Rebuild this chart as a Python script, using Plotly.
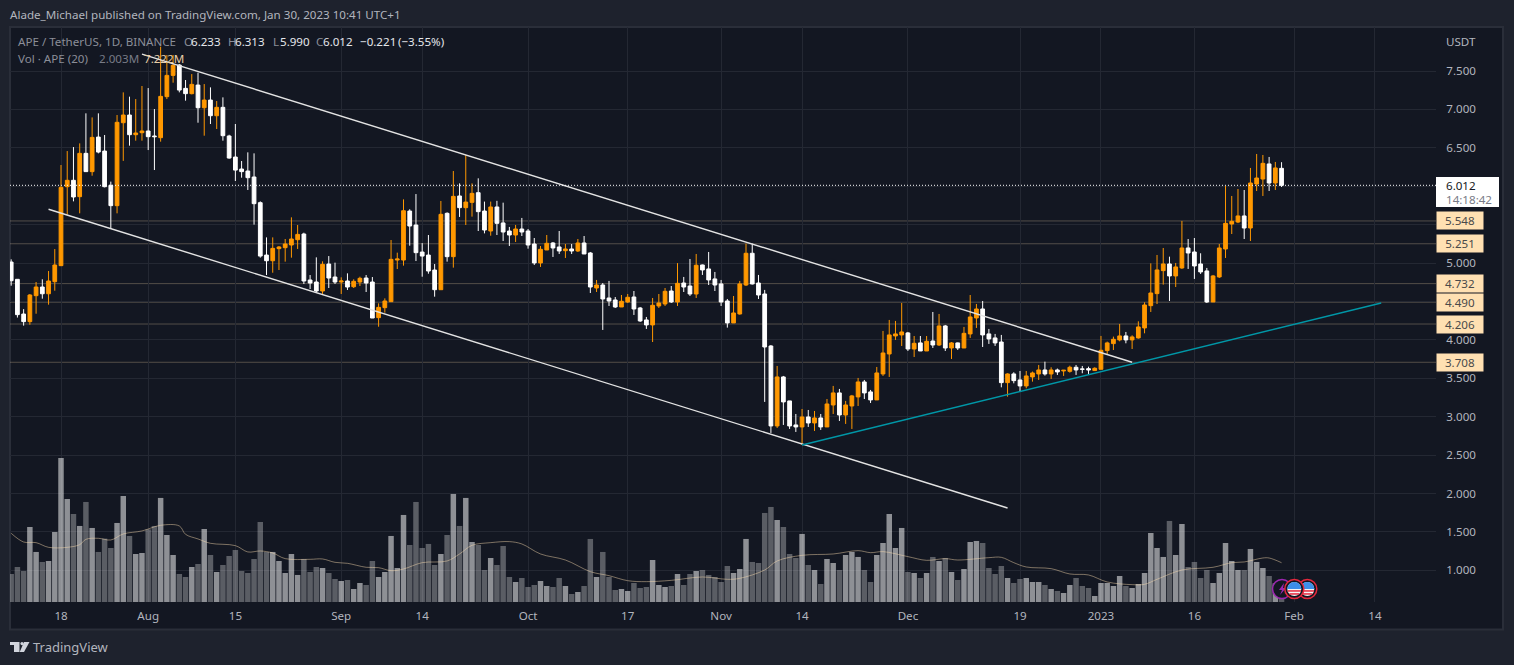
import math
import pandas as pd
import plotly.graph_objects as go

# ohlc per day, 10 Jul 2022 -> 30 Jan 2023, one line per month
opens = [5.013,4.788,4.336,4.237,4.575,4.688,4.60,4.757,4.966,5.994,6.077,5.864,6.428,6.19,6.64,6.458,6.012,5.747,6.827,6.927,6.671,6.697,
    6.719,6.654,6.632,7.166,7.443,7.578,7.274,7.205,7.317,7.022,7.122,6.918,7.027,6.654,6.38,6.224,6.198,6.12,5.786,5.104,5.03,5.187,5.2,5.235,5.304,5.378,4.779,4.753,4.636,4.987,4.818,
    4.753,4.766,4.692,4.753,4.805,4.753,4.289,4.419,4.497,5.039,5.039,5.677,5.495,5.143,5.104,4.909,4.653,5.647,5.083,5.873,5.721,5.79,5.916,5.677,5.417,5.73,5.522,5.417,5.365,5.443,
    5.417,5.248,5.001,5.17,5.261,5.209,5.161,5.183,5.157,5.261,5.131,4.675,4.714,4.545,4.519,4.428,4.493,4.558,4.415,4.259,4.194,4.441,4.467,4.636,4.493,4.74,4.701,4.597,4.975,4.923,4.793,
    4.728,4.506,4.22,4.337,4.714,5.127,4.74,4.597,3.92,2.879,3.517,3.205,2.892,2.866,2.996,2.918,2.983,2.866,3.152,3.309,3.022,3.139,3.257,3.452,3.322,3.218,3.556,3.816,4.051,4.064,
    4.09,3.881,3.96,3.855,3.985,3.933,4.181,3.894,3.96,3.894,4.077,4.285,4.402,4.077,4.025,3.972,3.443,3.556,3.478,3.4,3.517,3.556,3.608,3.556,3.608,3.595,3.59,3.643,3.621,3.625,3.6,
    3.617,3.86,3.951,3.999,4.051,3.999,4.025,4.155,4.445,4.602,4.901,4.988,4.832,4.936,5.196,5.144,4.988,4.897,4.493,4.819,5.183,5.508,5.534,5.613,5.456,6.029,6.094,6.29,6.042,6.233]
highs = [5.048,4.79,4.40,4.597,4.753,4.788,4.896,5.182,6.276,6.458,6.51,6.558,6.949,6.896,6.949,6.667,6.06,6.927,7.222,7.166,7.135,7.305,
    7.278,7.005,7.817,7.708,7.708,7.59,7.383,7.46,7.478,7.33,7.287,7.109,7.157,6.67,6.81,6.328,6.441,6.428,5.803,5.334,5.334,5.222,5.313,5.595,5.495,5.395,4.844,5.074,5.022,5.091,5.005,
    4.814,4.866,4.788,4.822,4.844,4.818,4.475,4.54,5.3,5.135,5.829,5.70,5.898,5.26,5.365,4.987,5.808,5.66,6.198,6.037,6.406,6.037,6.103,5.8,5.8,5.81,5.786,5.47,5.496,5.587,
    5.443,5.326,5.222,5.365,5.274,5.417,5.248,5.248,5.313,5.352,5.144,4.78,4.74,4.767,4.558,4.584,4.597,4.636,4.428,4.298,4.545,4.597,4.675,4.701,4.999,4.819,5.053,5.118,4.98,5.144,4.884,
    4.78,4.532,4.571,4.767,5.253,5.253,4.845,4.65,3.933,3.66,3.53,3.205,3.035,3.1,3.087,3.074,3.035,3.23,3.4,3.361,3.205,3.283,3.504,3.478,3.348,3.647,4.116,4.259,4.246,4.48,
    4.103,4.05,4.05,4.05,4.363,4.337,4.194,3.972,3.965,4.168,4.584,4.467,4.506,4.142,4.077,4.064,3.565,3.578,3.595,3.595,3.587,3.673,3.716,3.643,3.626,3.608,3.664,3.673,3.66,3.651,3.643,
    4.051,3.977,4.042,4.207,4.103,4.059,4.241,4.489,4.996,5.105,5.196,5.083,5.001,5.548,5.313,5.326,5.127,4.936,4.845,5.248,6.003,5.873,5.964,5.951,6.238,6.42,6.407,6.381,6.316,6.313]
lows = [4.705,4.29,4.185,4.197,4.34,4.536,4.458,4.64,4.96,5.63,5.803,5.647,6.19,6.137,6.428,5.985,5.443,5.647,6.33,6.528,6.593,6.593,
    6.471,6.211,6.58,7.135,7.348,7.222,7.114,7.196,6.827,6.658,6.81,6.745,6.593,6.358,6.068,6.111,5.951,5.5,5.07,4.844,4.874,4.909,5.018,5.07,5.183,4.727,4.662,4.614,4.597,4.675,4.727,
    4.597,4.649,4.675,4.701,4.623,4.284,4.171,4.354,4.497,4.922,4.966,5.226,5.026,4.822,4.861,4.562,4.65,5.018,4.94,5.6,5.495,5.604,5.417,5.386,5.356,5.365,5.287,5.222,5.274,5.352,
    5.187,4.975,4.949,5.17,5.079,5.118,5.066,5.118,5.144,5.118,4.61,4.623,4.129,4.441,4.415,4.428,4.48,4.324,4.233,4.142,3.972,4.415,4.441,4.48,4.441,4.623,4.571,4.545,4.845,4.714,4.636,
    4.441,4.159,4.22,4.328,4.701,4.72,4.532,3.192,2.788,2.853,2.892,2.84,2.801,2.632,2.866,2.814,2.827,2.866,3.035,2.944,2.905,2.84,3.139,3.23,3.178,3.218,3.53,3.517,3.999,3.92,
    3.855,3.777,3.855,3.855,3.894,3.92,3.855,3.751,3.868,3.894,4.025,4.155,3.907,3.947,3.921,3.382,3.261,3.434,3.326,3.369,3.456,3.478,3.534,3.491,3.543,3.53,3.573,3.543,3.565,3.556,3.595,
    3.617,3.816,3.868,3.981,3.955,3.881,4.016,4.085,4.363,4.467,4.719,4.506,4.688,4.923,4.923,4.793,4.858,4.48,4.493,4.806,5.066,5.378,5.52,5.313,5.287,5.938,5.873,5.938,5.951,5.99]
closes = [4.77,4.328,4.237,4.584,4.688,4.60,4.766,4.974,5.985,6.077,5.86,6.428,6.19,6.636,6.445,5.994,5.747,6.832,6.927,6.671,6.693,6.719,
    6.645,6.645,7.17,7.443,7.574,7.252,7.205,7.326,7.022,7.122,6.918,7.027,6.658,6.367,6.21,6.19,6.111,5.773,5.091,5.03,5.191,5.209,5.248,5.313,5.373,4.766,4.74,4.636,4.983,4.805,4.753,
    4.766,4.688,4.762,4.801,4.74,4.284,4.423,4.506,5.048,5.052,5.681,5.482,5.135,5.091,4.896,4.653,5.634,5.083,5.868,5.721,5.794,5.907,5.669,5.43,5.73,5.517,5.404,5.365,5.443,5.404,
    5.235,5.001,5.179,5.257,5.196,5.157,5.183,5.157,5.261,5.118,4.688,4.714,4.532,4.506,4.428,4.502,4.554,4.402,4.246,4.194,4.45,4.48,4.632,4.493,4.736,4.688,4.597,4.971,4.91,4.78,4.714,
    4.493,4.22,4.35,4.728,5.127,4.728,4.584,3.907,2.879,3.517,3.192,2.879,2.866,2.996,2.918,2.983,2.866,3.165,3.309,3.022,3.152,3.27,3.452,3.309,3.218,3.569,3.829,4.064,4.077,4.103,
    3.881,3.955,3.855,3.981,3.933,4.181,3.894,3.96,3.894,4.085,4.298,4.402,4.064,4.012,3.96,3.443,3.556,3.469,3.4,3.53,3.569,3.608,3.556,3.608,3.582,3.604,3.643,3.608,3.617,3.608,3.63,
    3.864,3.96,4.007,4.051,3.999,4.038,4.168,4.454,4.61,4.91,4.988,4.832,4.949,5.196,5.131,4.962,4.884,4.493,4.832,5.196,5.517,5.543,5.613,5.456,6.042,6.107,6.298,6.042,6.238,6.012]
# volume in millions
volumes = [5.15,6.44,5.70,13.79,9.20,7.36,7.54,12.87,26.48,18.94,16.18,13.98,18.39,13.61,9.20,11.65,9.93,14.53,19.49,12.14,8.83,9.01,
    13.36,13.98,19.13,12.32,8.64,5.15,4.60,6.44,6.99,13.42,8.64,5.52,6.80,8.46,9.56,5.70,5.33,7.91,14.71,9.20,9.20,7.54,5.33,8.83,4.97,7.91,5.52,6.44,6.25,5.33,4.23,
    3.86,4.05,2.39,3.49,3.13,7.54,4.60,5.52,12.14,6.25,16.0,10.48,18.39,9.93,10.67,6.80,8.83,12.32,19.86,13.98,19.13,11.03,10.48,5.88,8.09,6.80,10.30,4.60,3.68,4.41,
    2.76,3.13,3.86,2.94,2.76,4.41,2.94,1.47,1.84,2.94,11.59,4.60,9.20,4.60,2.21,2.39,2.02,3.49,2.57,2.76,7.72,3.13,2.76,2.94,5.15,3.13,5.15,5.70,5.88,4.97,4.60,
    3.68,6.62,5.33,6.07,11.59,7.36,7.17,16.37,17.47,15.08,13.79,8.83,8.09,12.51,6.80,5.88,3.31,7.91,7.17,5.88,8.64,9.20,8.28,5.88,3.68,8.64,10.85,16.18,9.93,13.61,
    5.52,5.33,4.41,5.33,8.28,7.54,8.09,5.52,4.05,6.07,11.03,11.22,10.85,6.25,5.15,6.62,4.41,3.49,4.23,4.41,3.68,3.68,3.13,2.39,2.02,1.66,3.13,4.41,2.94,2.57,1.10,
    3.49,3.49,2.94,4.78,2.94,2.57,3.31,5.33,12.69,9.93,8.28,14.90,8.64,14.34,6.44,7.36,4.41,5.88,3.49,5.33,10.85,7.54,5.88,5.88,9.75,7.36,6.25,4.78,3.43,2.003]

ma_dates = ["2022-07-10","2022-07-12","2022-07-14","2022-07-16","2022-07-19","2022-07-21","2022-07-22","2022-07-24","2022-07-26","2022-07-28","2022-07-31",
    "2022-08-03","2022-08-06","2022-08-07","2022-08-09","2022-08-11","2022-08-15","2022-08-17","2022-08-19","2022-08-21","2022-08-23","2022-08-27","2022-08-29","2022-08-31",
    "2022-09-02","2022-09-05","2022-09-07","2022-09-09","2022-09-11","2022-09-14","2022-09-18","2022-09-20","2022-09-22","2022-09-25","2022-09-28","2022-09-30",
    "2022-10-03","2022-10-07","2022-10-11","2022-10-14","2022-10-17","2022-10-20","2022-10-24","2022-10-29",
    "2022-11-02","2022-11-04","2022-11-08","2022-11-10","2022-11-14","2022-11-19","2022-11-23","2022-11-25","2022-11-27",
    "2022-12-01","2022-12-04","2022-12-07","2022-12-09","2022-12-14","2022-12-16","2022-12-18","2022-12-20","2022-12-24","2022-12-27","2022-12-30",
    "2023-01-02","2023-01-06","2023-01-08","2023-01-10","2023-01-14","2023-01-19","2023-01-22","2023-01-24","2023-01-27","2023-01-28","2023-01-30"]
ma_values = [12.63,11.03,10.91,10.05,10.05,10.54,11.52,11.71,11.40,12.51,13.06,
    14.10,13.98,12.44,11.59,10.79,10.36,9.20,9.38,9.01,7.97,7.85,7.91,7.29,
    7.11,6.38,6.31,5.76,6.07,7.23,7.54,8.83,10.42,10.91,11.10,10.67,
    8.83,7.72,5.58,4.84,3.92,3.74,3.98,4.60,
    4.17,4.35,5.88,7.54,8.58,8.83,9.44,9.07,9.26,
    8.34,7.66,7.97,7.72,8.15,8.21,7.23,6.44,6.13,5.15,4.97,
    3.68,3.19,3.25,4.17,5.88,6.38,7.23,7.36,8.09,8.09,7.222]

levels = [5.548, 5.251, 4.732, 4.490, 4.206, 3.708]
last_price = 6.012

upper_x, upper_y = ["2022-07-31", "2023-01-06"], [7.72, 3.708]
lower_x, lower_y = ["2022-07-16", "2022-12-17"], [5.70, 1.811]
trend_x, trend_y = ["2022-11-14", "2023-02-15"], [2.631, 4.48]

price_ticks = [1.0, 1.5, 2.0, 2.5, 3.0, 3.5, 4.0, 4.5, 5.0, 5.5, 6.0, 6.5, 7.0, 7.5]
# 4.5, 5.5 and 6.0 sit under the price tags, so they have no label
price_labels = ["1.000", "1.500", "2.000", "2.500", "3.000", "3.500", "4.000", "", "5.000", "", "", "6.500", "7.000", "7.500"]
date_ticks = ["2022-07-18", "2022-08-01", "2022-08-15", "2022-09-01", "2022-09-14", "2022-10-01", "2022-10-17",
              "2022-11-01", "2022-11-14", "2022-12-01", "2022-12-19", "2023-01-01", "2023-01-16", "2023-02-01", "2023-02-14"]
date_labels = ["18", "Aug", "15", "Sep", "14", "Oct", "17", "Nov", "14", "Dec", "19", "2023", "16", "Feb", "14"]

FONT = "Noto Sans"
GRID = "#242833"
ORANGE = "#ff9800"
dates = pd.date_range("2022-07-10", periods=len(opens), freq="D")


def px_x(px):
    return (px - 10) / 1426


def px_y(py):
    return (602 - py) / 575


def note(px, py, text, color="#b2b5be", size=11.6):
    return dict(xref="paper", yref="paper", x=px_x(px - 2), y=px_y(py), text=text, showarrow=False,
                xanchor="left", yanchor="middle", font=dict(color=color, size=size, family=FONT))


def box(x0, y0, x1, y1, **kw):
    return dict(type="rect", xref="paper", yref="paper", x0=px_x(x0), x1=px_x(x1), y0=px_y(y0), y1=px_y(y1), **kw)


def disc(cx, cy, r, **kw):
    return dict(type="circle", xref="paper", yref="paper", x0=px_x(cx - r), x1=px_x(cx + r),
                y0=px_y(cy - r), y1=px_y(cy + r), **kw)


def path(points, fill):
    d = "M " + " L ".join(f"{px_x(a):.5f},{px_y(b):.5f}" for a, b in points) + " Z"
    return dict(type="path", xref="paper", yref="paper", path=d, fillcolor=fill, line_width=0)


def flag(cx, cy):
    # little US flag badge of the economic calendar
    parts = [disc(cx, cy, 9.5, fillcolor="#131722", line=dict(color="#e5283c", width=1.5)),
             disc(cx, cy, 7, fillcolor="#f5f5f5", line_width=0)]
    for dy in (1.2, 4.2):
        half = math.sqrt(49 - (dy + 0.8) ** 2)
        parts.append(box(cx - half, cy + dy, cx + half, cy + dy + 1.5, fillcolor="#e5283c", line_width=0))
    points = [(cx + 7 * math.cos(a / 10 * math.pi), cy - 7 * math.sin(a / 10 * math.pi)) for a in range(0, 11)]
    parts.append(path(points + [(cx - 7, cy)], "#3d8fe8"))
    return parts


fig = go.Figure()
bar_colors = ["rgba(255,255,255,0.52)" if c >= o else "rgba(255,255,255,0.30)" for o, c in zip(opens, closes)]
fig.add_trace(go.Bar(x=dates, y=volumes, marker_color=bar_colors, marker_line_width=0, yaxis="y"))
fig.add_trace(go.Scatter(x=ma_dates, y=ma_values, mode="lines", yaxis="y",
                         line=dict(color="rgba(255,224,178,0.45)", width=1, shape="spline")))
fig.add_trace(go.Candlestick(x=dates, open=opens, high=highs, low=lows, close=closes, yaxis="y2", whiskerwidth=0,
                             increasing=dict(line=dict(color=ORANGE, width=1), fillcolor=ORANGE),
                             decreasing=dict(line=dict(color="#ffffff", width=1), fillcolor="#ffffff")))
for xs, ys, color in [(upper_x, upper_y, "#e3e3e3"), (lower_x, lower_y, "#e3e3e3"), (trend_x, trend_y, "#0097a7")]:
    fig.add_trace(go.Scatter(x=xs, y=ys, mode="lines", yaxis="y2", line=dict(color=color, width=1.4)))

shapes = [box(10, 27, 1503, 629.5, fillcolor="#131722", line=dict(color="#2a2e39", width=2), layer="below")]
for lv in levels:
    shapes.append(dict(type="line", xref="paper", yref="y2", x0=0, x1=1, y0=lv, y1=lv, layer="below",
                       line=dict(color="rgba(255,224,178,0.27)", width=1)))
shapes.append(dict(type="line", xref="paper", yref="y2", x0=0, x1=1, y0=last_price, y1=last_price,
                   line=dict(color="#ffffff", width=1, dash="1px,2px")))
shapes.append(box(1436, 177, 1499, 207, fillcolor="#ffffff", line_width=0))

# tradingview logo
shapes += [path([(10, 642), (19.5, 642), (19.5, 652), (14, 652), (14, 645), (10, 645)], "#d1d4dc"),
           disc(22, 643.6, 1.6, fillcolor="#d1d4dc", line_width=0),
           path([(24, 642), (29.5, 642), (24, 652), (19.7, 652)], "#d1d4dc")]
# event badges
shapes.append(disc(1282, 589, 9.5, fillcolor="#131722", line=dict(color="#9c27b0", width=1.5)))
shapes.append(path([(1284, 583), (1279, 590), (1282, 590), (1280, 595), (1286, 588), (1283, 588)], "#9c27b0"))
shapes += flag(1307.3, 589) + flag(1294.3, 589)

notes = [note(10, 15, "Alade_Michael published on TradingView.com, Jan 30, 2023 10:41 UTC+1"),
         note(18, 42, "APE / TetherUS, 1D, BINANCE", "#8b8e98"),
         note(18, 59, "Vol · APE (20)", "#8b8e98"),
         note(99, 59, "2.003M", "#787b86"),
         note(144, 59, "7.222M", "#e8cfa8"),
         note(33, 647, "TradingView", "#b2b5be", 13),
         note(1446, 41, "USDT", "#b2b5be"),
         note(1446, 185, "6.012", "#131722"),
         note(1446, 200, "14:18:42", "#787b86")]
for px, letter, value in [(184, "O", "6.233"), (228, "H", "6.313"), (273, "L", "5.990"), (316, "C", "6.012")]:
    notes.append(note(px, 42, letter, "#8b8e98"))
    notes.append(note(px + 7, 42, value, "#e4e6eb"))
notes.append(note(360, 42, "−0.221", "#e4e6eb"))
notes.append(note(398, 42, "(−3.55%)", "#e4e6eb"))
for lv in levels:
    notes.append(dict(xref="paper", yref="y2", x=1, y=lv, text=f"{lv:.3f}", showarrow=False, xanchor="left",
                      yanchor="middle", width=44, height=15, bgcolor="#ffe0b2", align="center",
                      font=dict(color="#4a4a4a", size=11.6, family=FONT)))

fig.update_layout(
    width=1514, height=665, autosize=False, showlegend=False, bargap=0.12,
    boxmode="overlay", boxgap=0.4, boxgroupgap=0,
    paper_bgcolor="#1e222d", plot_bgcolor="rgba(0,0,0,0)",
    margin=dict(l=10, r=78, t=27, b=63),
    font=dict(family=FONT, size=12, color="#b2b5be"),
    shapes=shapes, annotations=notes,
    xaxis=dict(type="date", range=["2022-07-09 19:26", "2023-02-23 19:12"], rangeslider_visible=False,
               tickmode="array", tickvals=date_ticks, ticktext=date_labels, showgrid=True, gridcolor=GRID,
               zeroline=False, showline=False, ticks="outside", ticklen=3, tickcolor="rgba(0,0,0,0)",
               tickfont=dict(color="#b2b5be", size=11.6)),
    yaxis=dict(range=[0, 105.7], showgrid=False, showticklabels=False, zeroline=False),
    yaxis2=dict(overlaying="y", side="right", range=[0.587, 8.073], tickmode="array", tickvals=price_ticks,
                ticktext=price_labels, showgrid=True, gridcolor=GRID, zeroline=False, showline=False,
                ticks="outside", ticklen=7, tickcolor="rgba(0,0,0,0)", tickfont=dict(color="#b2b5be", size=11.6)),
)

fig.write_html("out.html", config={"displayModeBar": False},
               post_script="document.body.style.margin='0';document.body.style.background='#1e222d';")
